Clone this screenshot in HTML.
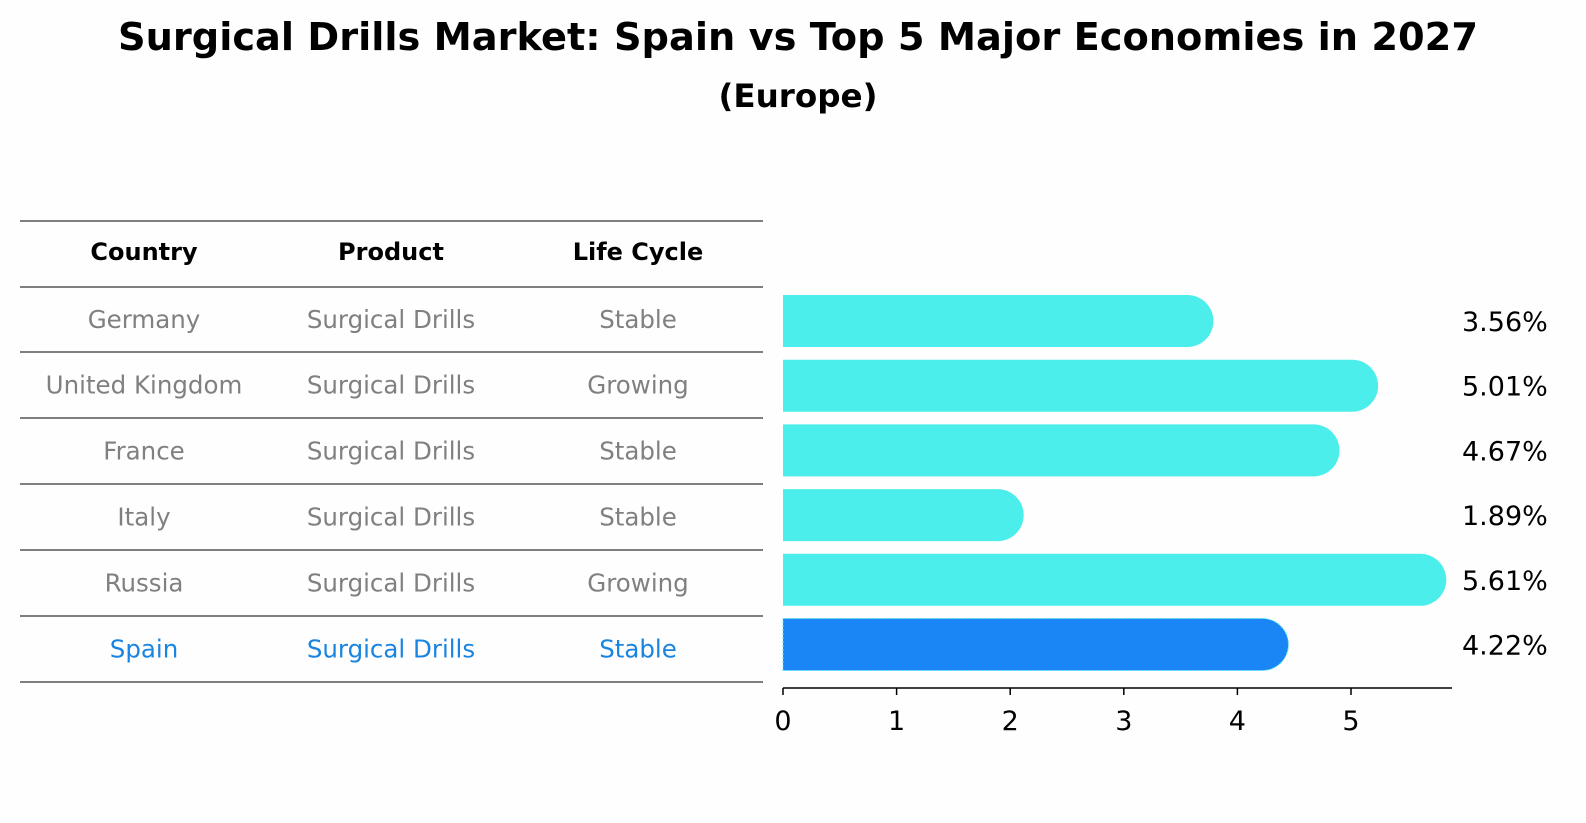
<!DOCTYPE html>
<html><head><meta charset="utf-8"><style>
html,body{margin:0;padding:0;overflow:hidden;background:#fefefe;font-family:"DejaVu Sans","Liberation Sans",sans-serif}
svg{display:block}
</style></head><body>
<svg width="1586" height="823" xmlns="http://www.w3.org/2000/svg" font-family="'DejaVu Sans', 'Liberation Sans', sans-serif">
<text x="798" y="50" text-anchor="middle" font-size="38" font-weight="bold" textLength="1360" lengthAdjust="spacingAndGlyphs">Surgical Drills Market: Spain vs Top 5 Major Economies in 2027</text>
<text x="798" y="107" text-anchor="middle" font-size="32" font-weight="bold" textLength="159" lengthAdjust="spacingAndGlyphs">(Europe)</text>
<g id="table"></g>
<g id="bars"></g>
</svg>
<script>
const countries=["Germany","United Kingdom","France","Italy","Russia","Spain"];
const products=["Surgical Drills","Surgical Drills","Surgical Drills","Surgical Drills","Surgical Drills","Surgical Drills"];
const lifeCycles=["Stable","Growing","Stable","Stable","Growing","Stable"];
const values=[3.56,5.01,4.67,1.89,5.61,4.22];
const ticks=[0,1,2,3,4,5];
const NS="http://www.w3.org/2000/svg";
function mk(tag,attrs,parent,text){const e=document.createElementNS(NS,tag);for(const k in attrs)e.setAttribute(k,attrs[k]);if(text!==undefined)e.textContent=text;parent.appendChild(e);return e;}
const tb=document.getElementById('table');
const lineYs=[221,287,352,418,484,550,616,682];
lineYs.forEach(y=>{const l=mk('line',{x1:20,x2:763,y1:y,y2:y,stroke:'#000','stroke-width':1},tb);

});
const colX=[144,391,638];
["Country","Product","Life Cycle"].forEach((h,i)=>{const t=mk('text',{x:colX[i],y:260,'text-anchor':'middle','font-size':24,'font-weight':'bold'},tb,h);

});
countries.forEach((c,r)=>{const y=(lineYs[r+1]+lineYs[r+2])/2+8.5;const col=c==="Spain"?'#1a85e0':'#808080';
[c,products[r],lifeCycles[r]].forEach((v,i)=>{const t=mk('text',{x:colX[i],y:y,'text-anchor':'middle','font-size':24.5,fill:col},tb,v);

});});
const bg=document.getElementById('bars');
const x0=783,ppu=113.6,rowY0=321,rowStep=64.7,bh=52,rad=26;
const xs=v=>x0+v*ppu;
values.forEach((v,i)=>{const cy=rowY0+i*rowStep;const spain=countries[i]==="Spain";
const w=xs(v)-x0;
const p=mk('path',{d:`M${x0},${cy-bh/2} H${x0+w} A${rad},${rad} 0 0 1 ${x0+w},${cy+bh/2} H${x0} Z`,fill:spain?'#1a85f5':'#4beeea',stroke:spain?'#4beeea':'none','stroke-width':spain?1:0,'stroke-dasharray':spain?'2,2':''},bg);


const t=mk('text',{x:1462,y:cy+10,'font-size':27},bg,v.toFixed(2)+'%');

});
const ax=mk('line',{x1:x0,x2:1452,y1:688,y2:688,stroke:'#000','stroke-width':1.5},bg);


ticks.forEach(t=>{const x=xs(t);const l=mk('line',{x1:x,x2:x,y1:688,y2:695,stroke:'#000','stroke-width':1.5},bg);


const tx=mk('text',{x:x,y:730,'text-anchor':'middle','font-size':27},bg,String(t));

});
</script>
</body></html>
